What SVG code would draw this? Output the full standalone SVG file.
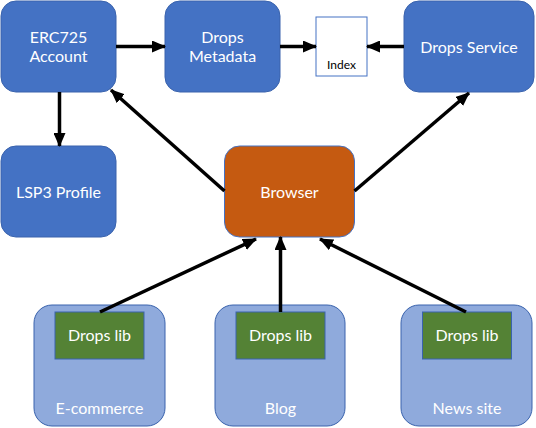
<svg xmlns="http://www.w3.org/2000/svg" width="536" height="428" viewBox="0 0 536 428">
<style>
.blue{fill:#4472C4;stroke:#3A63AD;stroke-width:1}
.orange{fill:#C55A11;stroke:#4472C4;stroke-width:1}
.light{fill:#8FAADC;stroke:#3A63AD;stroke-width:1}
.green{fill:#548235;stroke:#3A63AD;stroke-width:1}
.idx{fill:#FFFFFF;stroke:#4472C4;stroke-width:1}
.t{font-family:Lato,"Open Sans",sans-serif;font-size:16px;fill:#FFFFFF;text-anchor:middle}
.tk{font-family:Lato,"Open Sans",sans-serif;font-size:12px;fill:#000000;text-anchor:middle}
.c{stroke:#000;stroke-width:3.5;fill:none;marker-end:url(#ah)}
</style>
<defs>
<marker id="ah" markerUnits="userSpaceOnUse" markerWidth="14" markerHeight="12" refX="13" refY="6" orient="auto">
<path d="M0,0 L14,6 L0,12 Z" fill="#000"/>
</marker>
</defs>
<g id="erc725">
<rect class="blue" x="1" y="1" width="115" height="91" rx="15"/>
<text class="t" x="58.5" y="43">ERC725</text>
<text class="t" x="58.5" y="62">Account</text>
</g>
<g id="metadata">
<rect class="blue" x="165" y="1" width="115" height="91" rx="15"/>
<text class="t" x="222.5" y="43">Drops</text>
<text class="t" x="222.5" y="62">Metadata</text>
</g>
<g id="index">
<rect class="idx" x="316" y="17" width="51" height="59"/>
<text class="tk" x="341.5" y="69">Index</text>
</g>
<g id="service">
<rect class="blue" x="404" y="1" width="130" height="91" rx="15"/>
<text class="t" x="469" y="53">Drops Service</text>
</g>
<g id="lsp3">
<rect class="blue" x="1" y="146" width="115" height="91" rx="15"/>
<text class="t" x="58.5" y="198">LSP3 Profile</text>
</g>
<g id="browser">
<rect class="orange" x="224.5" y="146" width="130" height="91" rx="15"/>
<text class="t" x="289.5" y="198">Browser</text>
</g>
<g id="ecommerce">
<rect class="light" x="34" y="305" width="131" height="121" rx="18"/>
<rect class="green" x="55" y="312" width="89" height="47"/>
<text class="t" x="99.5" y="341">Drops lib</text>
<text class="t" x="99.5" y="414">E-commerce</text>
</g>
<g id="blog">
<rect class="light" x="215" y="305" width="130" height="121" rx="18"/>
<rect class="green" x="236" y="312" width="89" height="47"/>
<text class="t" x="280.5" y="341">Drops lib</text>
<text class="t" x="280.5" y="414">Blog</text>
</g>
<g id="news">
<rect class="light" x="401" y="305" width="131" height="121" rx="18"/>
<rect class="green" x="422.5" y="312" width="89" height="47"/>
<text class="t" x="467" y="341">Drops lib</text>
<text class="t" x="467" y="414">News site</text>
</g>
<g id="connectors">
<line class="c" x1="116" y1="46.5" x2="165" y2="46.5"/>
<line class="c" x1="280" y1="46.5" x2="316" y2="46.5"/>
<line class="c" x1="404" y1="46.5" x2="367" y2="46.5"/>
<line class="c" x1="59.5" y1="92" x2="59.5" y2="146"/>
<line class="c" x1="224.5" y1="191" x2="111" y2="90"/>
<line class="c" x1="354.5" y1="191" x2="469" y2="93"/>
<line class="c" x1="100" y1="312" x2="256" y2="239"/>
<line class="c" x1="280.5" y1="312" x2="280.5" y2="237"/>
<line class="c" x1="466" y1="312" x2="320" y2="239"/>
</g>
</svg>
